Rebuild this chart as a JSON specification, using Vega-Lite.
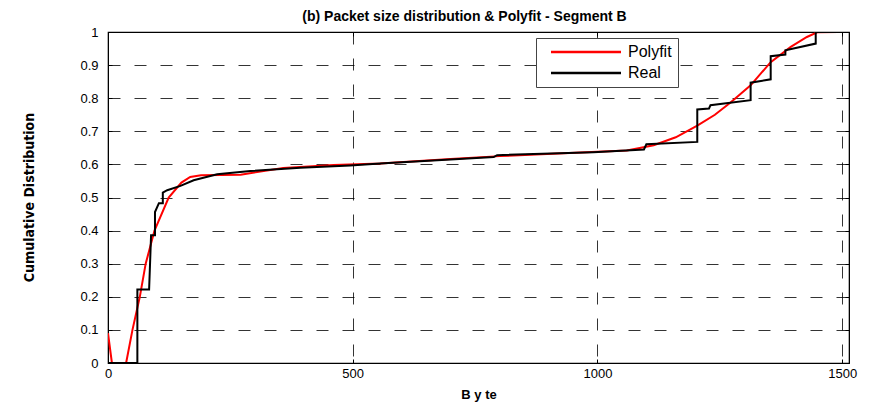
{
  "$schema": "https://vega.github.io/schema/vega-lite/v6.json",
  "width": 741,
  "height": 331,
  "autosize": "none",
  "padding": {"left": 108, "top": 32, "right": 26, "bottom": 39},
  "background": "white",
  "title": {
    "text": "(b) Packet size distribution & Polyfit - Segment B",
    "font": "Liberation Sans",
    "fontSize": 14,
    "fontWeight": "bold",
    "color": "black",
    "anchor": "middle",
    "dx": -14,
    "offset": 2
  },
  "config": {
    "view": {"stroke": "black", "strokeWidth": 1.2},
    "axis": {
      "labelFont": "Liberation Sans",
      "labelFontSize": 13,
      "labelColor": "black",
      "titleFont": "Liberation Sans",
      "titleColor": "black",
      "titleFontWeight": "bold",
      "domainColor": "black",
      "tickColor": "black",
      "gridColor": "black",
      "gridDash": [12, 14],
      "gridWidth": 0.8,
      "gridOpacity": 1
    },
    "legend": {
      "orient": "none",
      "legendX": 428,
      "legendY": 6,
      "fillColor": "white",
      "strokeColor": "#444",
      "strokeWidth": 1,
      "padding": 6,
      "symbolType": "M-7,0H7",
      "symbolStrokeWidth": 2.5,
      "symbolSize": 100,
      "symbolOffset": 36,
      "labelFont": "Liberation Sans",
      "labelFontSize": 16,
      "labelColor": "black",
      "rowPadding": 5,
      "labelOffset": 34
    }
  },
  "data": {
    "values": [
      {"series": "Polyfit", "bytes": 0, "cdf": 0.09},
      {"series": "Polyfit", "bytes": 8, "cdf": 0.0},
      {"series": "Polyfit", "bytes": 37, "cdf": 0.0},
      {"series": "Polyfit", "bytes": 50, "cdf": 0.1},
      {"series": "Polyfit", "bytes": 65, "cdf": 0.2},
      {"series": "Polyfit", "bytes": 77, "cdf": 0.3},
      {"series": "Polyfit", "bytes": 95, "cdf": 0.4},
      {"series": "Polyfit", "bytes": 124, "cdf": 0.5},
      {"series": "Polyfit", "bytes": 150, "cdf": 0.545},
      {"series": "Polyfit", "bytes": 168, "cdf": 0.562},
      {"series": "Polyfit", "bytes": 190, "cdf": 0.567},
      {"series": "Polyfit", "bytes": 271, "cdf": 0.569},
      {"series": "Polyfit", "bytes": 358, "cdf": 0.589},
      {"series": "Polyfit", "bytes": 461, "cdf": 0.598},
      {"series": "Polyfit", "bytes": 556, "cdf": 0.603},
      {"series": "Polyfit", "bytes": 700, "cdf": 0.616},
      {"series": "Polyfit", "bytes": 800, "cdf": 0.625},
      {"series": "Polyfit", "bytes": 1000, "cdf": 0.638},
      {"series": "Polyfit", "bytes": 1060, "cdf": 0.642},
      {"series": "Polyfit", "bytes": 1115, "cdf": 0.658},
      {"series": "Polyfit", "bytes": 1160, "cdf": 0.682},
      {"series": "Polyfit", "bytes": 1204, "cdf": 0.717},
      {"series": "Polyfit", "bytes": 1240, "cdf": 0.75},
      {"series": "Polyfit", "bytes": 1272, "cdf": 0.787},
      {"series": "Polyfit", "bytes": 1313, "cdf": 0.839},
      {"series": "Polyfit", "bytes": 1354, "cdf": 0.909},
      {"series": "Polyfit", "bytes": 1395, "cdf": 0.955},
      {"series": "Polyfit", "bytes": 1428, "cdf": 0.985},
      {"series": "Polyfit", "bytes": 1449, "cdf": 0.999},
      {"series": "Polyfit", "bytes": 1493, "cdf": 1.0},
      {"series": "Real", "bytes": 0, "cdf": 0.0},
      {"series": "Real", "bytes": 60, "cdf": 0.0},
      {"series": "Real", "bytes": 60, "cdf": 0.222},
      {"series": "Real", "bytes": 84, "cdf": 0.222},
      {"series": "Real", "bytes": 88, "cdf": 0.386},
      {"series": "Real", "bytes": 96, "cdf": 0.386},
      {"series": "Real", "bytes": 96, "cdf": 0.456},
      {"series": "Real", "bytes": 104, "cdf": 0.483},
      {"series": "Real", "bytes": 112, "cdf": 0.483},
      {"series": "Real", "bytes": 112, "cdf": 0.515},
      {"series": "Real", "bytes": 121, "cdf": 0.522},
      {"series": "Real", "bytes": 148, "cdf": 0.535},
      {"series": "Real", "bytes": 175, "cdf": 0.552},
      {"series": "Real", "bytes": 223, "cdf": 0.57},
      {"series": "Real", "bytes": 291, "cdf": 0.58},
      {"series": "Real", "bytes": 393, "cdf": 0.59},
      {"series": "Real", "bytes": 495, "cdf": 0.597},
      {"series": "Real", "bytes": 556, "cdf": 0.603},
      {"series": "Real", "bytes": 700, "cdf": 0.615},
      {"series": "Real", "bytes": 788, "cdf": 0.622},
      {"series": "Real", "bytes": 795, "cdf": 0.628},
      {"series": "Real", "bytes": 992, "cdf": 0.637},
      {"series": "Real", "bytes": 1095, "cdf": 0.645},
      {"series": "Real", "bytes": 1100, "cdf": 0.661},
      {"series": "Real", "bytes": 1204, "cdf": 0.668},
      {"series": "Real", "bytes": 1204, "cdf": 0.766},
      {"series": "Real", "bytes": 1228, "cdf": 0.769},
      {"series": "Real", "bytes": 1231, "cdf": 0.779},
      {"series": "Real", "bytes": 1313, "cdf": 0.794},
      {"series": "Real", "bytes": 1313, "cdf": 0.847},
      {"series": "Real", "bytes": 1354, "cdf": 0.857},
      {"series": "Real", "bytes": 1354, "cdf": 0.927},
      {"series": "Real", "bytes": 1384, "cdf": 0.932},
      {"series": "Real", "bytes": 1384, "cdf": 0.945},
      {"series": "Real", "bytes": 1446, "cdf": 0.965},
      {"series": "Real", "bytes": 1446, "cdf": 1.0},
      {"series": "Real", "bytes": 1500, "cdf": 1.0}
    ]
  },
  "layer": [
    {
      "transform": [{"filter": "datum.series === 'Polyfit'"}],
      "mark": {"type": "line", "strokeWidth": 2, "clip": true},
      "encoding": {
        "x": {
          "field": "bytes",
          "type": "quantitative",
          "scale": {"domain": [0, 1514], "nice": false, "zero": false},
          "axis": {
            "orient": "bottom",
            "title": "B y te",
            "titleFontSize": 13,
            "titlePadding": 8,
            "values": [0, 500, 1000, 1500],
            "format": "d",
            "grid": true,
            "tickSize": -4,
            "labelPadding": 8,
            "labelFlush": false
          }
        },
        "y": {
          "field": "cdf",
          "type": "quantitative",
          "scale": {"domain": [0, 1], "nice": false},
          "axis": {
            "orient": "left",
            "title": "Cumulative Distribution",
            "titleFont": "DejaVu Sans Condensed, Liberation Sans, sans-serif",
            "titleFontSize": 14,
            "titleX": -79,
            "titleY": 165,
            "titleAlign": "center",
            "titleBaseline": "middle",
            "values": [0, 0.1, 0.2, 0.3, 0.4, 0.5, 0.6, 0.7, 0.8, 0.9, 1],
            "format": ".1~f",
            "grid": true,
            "tickSize": -4,
            "labelPadding": 14
          }
        },
        "color": {
          "field": "series",
          "type": "nominal",
          "scale": {"domain": ["Polyfit", "Real"], "range": ["#ff0000", "#000000"]},
          "legend": {"title": null}
        },
        "order": {"field": "bytes", "type": "quantitative"}
      }
    },
    {
      "transform": [{"filter": "datum.series === 'Real'"}],
      "mark": {"type": "line", "strokeWidth": 2, "clip": true},
      "encoding": {
        "x": {
          "field": "bytes",
          "type": "quantitative",
          "axis": {
            "orient": "top",
            "title": null,
            "labels": false,
            "values": [0, 500, 1000, 1500],
            "grid": false,
            "tickSize": -4
          }
        },
        "y": {
          "field": "cdf",
          "type": "quantitative",
          "axis": {
            "orient": "right",
            "title": null,
            "labels": false,
            "values": [0, 0.1, 0.2, 0.3, 0.4, 0.5, 0.6, 0.7, 0.8, 0.9, 1],
            "grid": false,
            "tickSize": -4
          }
        },
        "color": {"field": "series", "type": "nominal"}
      }
    }
  ],
  "resolve": {"axis": {"x": "independent", "y": "independent"}}
}
